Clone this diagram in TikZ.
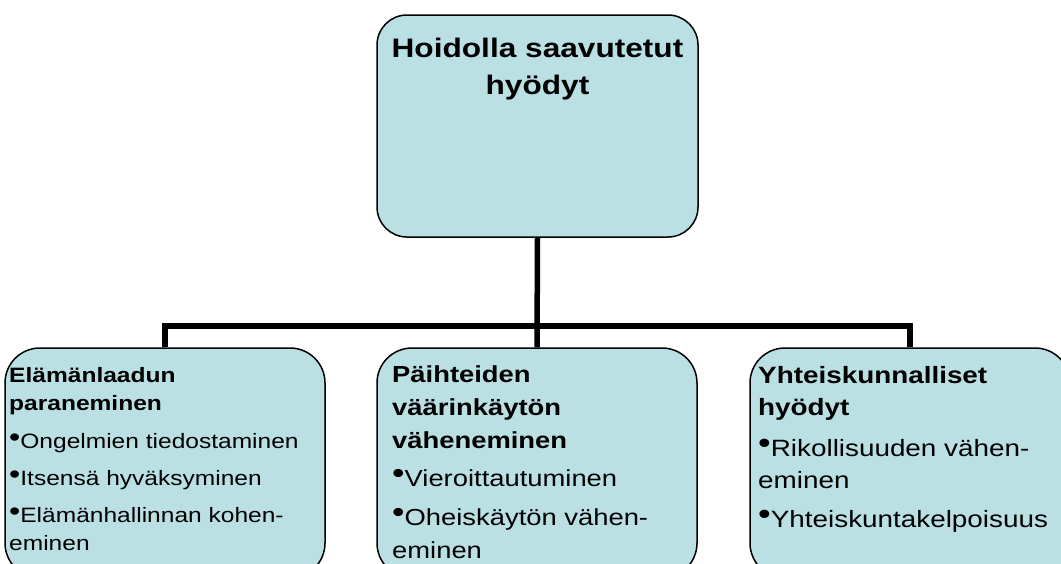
\documentclass[tikz,border=0pt]{standalone}
\usepackage{fontspec}
\setmainfont{Liberation Sans}[FakeStretch=1.18]
\definecolor{boxfill}{RGB}{186,224,228}
% small raised list bullet
\newcommand\itemdot{{\fontsize{1.3em}{1em}\selectfont\raisebox{0.07em}{•}}}
\tikzset{
  panel/.style={draw=black, line width=1.5pt, fill=boxfill, inner sep=0pt},
  toppanel/.style={panel, rounded corners=30pt, minimum width=321pt, minimum height=222pt},
  subpanel/.style={panel, rounded corners=35pt, minimum width=320pt, minimum height=230pt},
  branch/.style={line width=5.5pt},
  % multi-line texts are placed by the baseline of their last line
  paneltext/.style={anchor=base west, align=left, inner sep=0pt},
}
\begin{document}
\begin{tikzpicture}[x=1pt, y=-1pt]
\path[use as bounding box, clip] (0,0) rectangle (1061,563);

% boxes
\node[toppanel] (root) at (537.5,126) {};
\node[subpanel] (life) at (165,463) {};
\node[subpanel] (drugs) at (537,463) {};
\node[subpanel] (society) at (910,463) {};

% connectors
\coordinate (bus) at (537,326);
\draw[branch] (root.south) -- (drugs.north);
\draw[branch] (life.north) |- (bus) -| (society.north);

% texts
\node[anchor=base, align=center, inner sep=0pt,
      font=\fontsize{26.8}{37}\selectfont\bfseries] (roottext) at (537.5,94)
  {Hoidolla saavutetut\\hyödyt};

\node[paneltext, font=\fontsize{20.8}{28}\selectfont] (lifetext) at (9,550)
  {\textbf{Elämänlaadun}\\
   \textbf{paraneminen}\\[9.5pt]
   \itemdot Ongelmien tiedostaminen\\[9pt]
   \itemdot Itsensä hyväksyminen\\[9pt]
   \itemdot Elämänhallinnan kohen-\\
   eminen};

\node[paneltext, font=\fontsize{23.2}{33}\selectfont] (drugstext) at (392,558)
  {\textbf{Päihteiden}\\
   \textbf{väärinkäytön}\\
   \textbf{väheneminen}\\[5pt]
   \itemdot Vieroittautuminen\\[6pt]
   \itemdot Oheiskäytön vähen-\\
   eminen};

\node[paneltext, font=\fontsize{23.6}{32}\selectfont] (societytext) at (758,527)
  {\textbf{Yhteiskunnalliset}\\
   \textbf{hyödyt}\\[9pt]
   \itemdot Rikollisuuden vähen-\\
   eminen\\[7pt]
   \itemdot Yhteiskuntakelpoisuus};
\end{tikzpicture}
\end{document}
